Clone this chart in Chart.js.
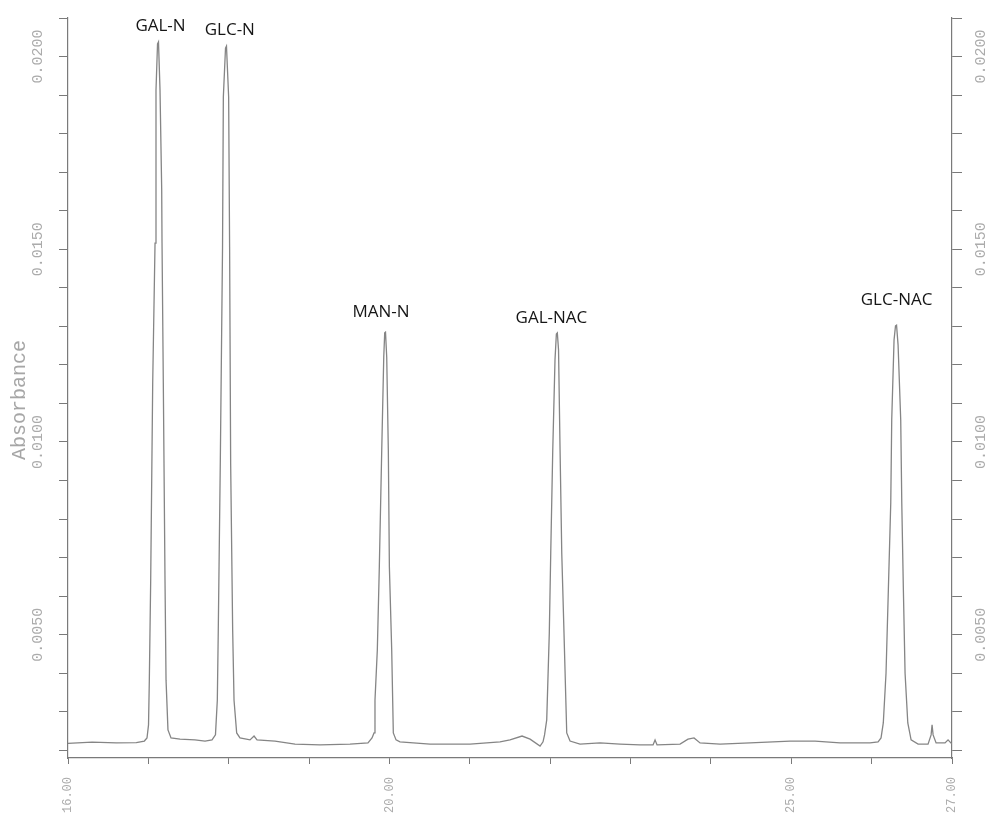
<!DOCTYPE html>
<html>
<head>
<meta charset="utf-8">
<script src="https://cdn.jsdelivr.net/npm/chart.js@4.4.1/dist/chart.umd.min.js"></script>
<style>
  html, body { margin: 0; padding: 0; background: #ffffff; }
  #wrap { width: 987px; height: 815px; position: relative; }
</style>
</head>
<body>
<div id="wrap"><canvas id="chart" width="987" height="815"></canvas></div>
<script>
// ---- Data ----
const retentionTime = [
  16.00, 16.30, 16.60, 16.85, 16.95,
  16.983, 17.002, 17.012, 17.029, 17.054, 17.083, 17.095, 17.114, 17.126, 17.145, 17.166, 17.170, 17.186, 17.207, 17.220, 17.244, 17.282,
  17.394, 17.580, 17.705, 17.792,
  17.835, 17.858, 17.870, 17.895, 17.923, 17.933, 17.960, 17.972, 17.999, 18.011, 18.024, 18.049, 18.066, 18.099, 18.140,
  18.265, 18.315, 18.352, 18.576, 18.825, 19.136, 19.509, 19.733,
  19.783, 19.808, 19.820, 19.849, 19.874, 19.904, 19.929, 19.941, 19.951, 19.966, 19.986, 19.999, 20.028, 20.048, 20.082, 20.131,
  20.505, 21.003, 21.376, 21.500, 21.650, 21.750, 21.874,
  21.911, 21.930, 21.957, 21.989, 22.007, 22.032, 22.060, 22.077, 22.089, 22.104, 22.123, 22.144, 22.172, 22.206, 22.247, 22.371,
  22.620, 22.869, 23.118, 23.280, 23.305, 23.330, 23.616, 23.715, 23.790, 23.865, 24.114, 24.487, 24.985, 25.296, 25.607, 25.980, 26.080,
  26.117, 26.145, 26.179, 26.208, 26.238, 26.250, 26.279, 26.297, 26.310, 26.329, 26.362, 26.375, 26.395, 26.416, 26.450, 26.491,
  26.578, 26.702, 26.740, 26.752, 26.765, 26.802, 26.913, 26.951, 27.000
];
const absorbance = [
  0.00218, 0.00221, 0.00219, 0.00220, 0.00224,
  0.00232, 0.00266, 0.00382, 0.00642, 0.01153, 0.01516, 0.01913, 0.02033, 0.02038, 0.01913, 0.01654, 0.01516, 0.01153, 0.00642, 0.00382, 0.00253, 0.00232,
  0.00229, 0.00227, 0.00224, 0.00227,
  0.00240, 0.00330, 0.00512, 0.00945, 0.01506, 0.01895, 0.02022, 0.02027, 0.01895, 0.01506, 0.00945, 0.00512, 0.00330, 0.00245, 0.00232,
  0.00227, 0.00237, 0.00227, 0.00224, 0.00216, 0.00214, 0.00216, 0.00219,
  0.00232, 0.00245, 0.00330, 0.00460, 0.00676, 0.00979, 0.01220, 0.01283, 0.01285, 0.01220, 0.00979, 0.00676, 0.00460, 0.00245, 0.00227, 0.00222,
  0.00216, 0.00216, 0.00222, 0.00227, 0.00237, 0.00229, 0.00211,
  0.00222, 0.00240, 0.00279, 0.00504, 0.00712, 0.00979, 0.01213, 0.01280, 0.01283, 0.01239, 0.00979, 0.00712, 0.00504, 0.00245, 0.00224, 0.00216,
  0.00219, 0.00216, 0.00214, 0.00214, 0.00227, 0.00214, 0.00216, 0.00229, 0.00232, 0.00219, 0.00216, 0.00219, 0.00224, 0.00224, 0.00219, 0.00219, 0.00222,
  0.00232, 0.00271, 0.00400, 0.00616, 0.00842, 0.01057, 0.01265, 0.01301, 0.01303, 0.01252, 0.01057, 0.00842, 0.00616, 0.00400, 0.00271, 0.00227,
  0.00216, 0.00216, 0.00240, 0.00266, 0.00240, 0.00219, 0.00219, 0.00227, 0.00216
];

// Peak names and their apex (time, absorbance)
const peakNames   = ["GAL-N", "GLC-N", "MAN-N", "GAL-NAC", "GLC-NAC"];
const peakTimes   = [17.12, 17.97, 19.95, 22.09, 26.31];
const peakHeights = [0.02038, 0.02027, 0.01285, 0.01283, 0.01303];

// Axis ticks
const xTicks       = [16, 17, 18, 19, 20, 21, 22, 23, 24, 25, 26, 27];
const xTickLabels  = [16, 20, 25, 27];
const yTicks       = [0.002, 0.003, 0.004, 0.005, 0.006, 0.007, 0.008, 0.009, 0.010, 0.011,
                      0.012, 0.013, 0.014, 0.015, 0.016, 0.017, 0.018, 0.019, 0.020, 0.021];
const yTickLabels  = [0.005, 0.010, 0.015, 0.020];

if (retentionTime.length !== absorbance.length) console.error('length mismatch');

// ---- Styling ----
const AXIS_COLOR = '#7a7a7a';
const TICK_TEXT = '#ababab';
const TRACE_COLOR = '#858585';
const MONO = '"Liberation Mono", "DejaVu Sans Mono", monospace';
const labelOffsets = [[2.5, -11], [3.5, -11], [-4.5, -15], [-6, -10], [0, -20]];

const isIn = (list, v) => list.some(l => Math.abs(l - v) < 1e-9);

const peakLabelPlugin = {
  id: 'peakLabels',
  afterDatasetsDraw(chart) {
    const {ctx, scales} = chart;
    ctx.save();
    ctx.font = '17px "Open Sans", "Noto Sans", sans-serif';
    ctx.fillStyle = '#161616';
    ctx.textAlign = 'center';
    ctx.textBaseline = 'alphabetic';
    peakNames.forEach((name, i) => {
      const px = scales.x.getPixelForValue(peakTimes[i]) + labelOffsets[i][0];
      const py = scales.y.getPixelForValue(peakHeights[i]) + labelOffsets[i][1];
      ctx.fillText(name, px, py);
    });
    ctx.restore();
  }
};

const yAxisCommon = (position, tickLen, pad) => ({
  type: 'linear',
  position,
  min: 0.0018,
  max: 0.021,
  afterBuildTicks: (s) => { s.ticks = yTicks.map(v => ({value: v})); },
  ticks: {
    autoSkip: false,
    minRotation: 90,
    maxRotation: 90,
    crossAlign: 'center',
    padding: pad,
    color: TICK_TEXT,
    font: { family: MONO, size: 15 },
    callback: (v) => isIn(yTickLabels, v) ? Number(v).toFixed(4) : ''
  },
  grid: { drawOnChartArea: false, drawTicks: true, tickLength: tickLen, color: AXIS_COLOR, lineWidth: 1 },
  border: { display: true, color: AXIS_COLOR, width: 1.2 }
});

const yLeft = yAxisCommon('left', 9, -6);
yLeft.title = {
  display: true,
  text: 'Absorbance  ',
  color: '#a6a6a6',
  font: { family: MONO, size: 20 },
  padding: { top: 8, bottom: 0 }
};
yLeft.afterFit = (s) => { s.width = 68; };

const yRight = yAxisCommon('right', 10, -8);
yRight.afterFit = (s) => { s.width = 35; };

new Chart(document.getElementById('chart'), {
  type: 'line',
  data: {
    datasets: [{
      label: 'Absorbance',
      data: retentionTime.map((t, i) => ({x: t, y: absorbance[i]})),
      borderColor: TRACE_COLOR,
      borderWidth: 1.3,
      pointRadius: 0,
      tension: 0,
      fill: false,
      yAxisID: 'y'
    }]
  },
  options: {
    responsive: false,
    animation: false,
    layout: { padding: { top: 18, left: 0, right: 0, bottom: 0 } },
    plugins: { legend: { display: false }, tooltip: { enabled: false } },
    scales: {
      x: {
        type: 'linear',
        position: 'bottom',
        min: 16,
        max: 27,
        afterBuildTicks: (s) => { s.ticks = xTicks.map(v => ({value: v})); },
        ticks: {
          autoSkip: false,
          minRotation: 90,
          maxRotation: 90,
          padding: 13,
          color: TICK_TEXT,
          font: { family: MONO, size: 12 },
          callback: (v) => isIn(xTickLabels, v) ? Number(v).toFixed(2) : ''
        },
        grid: { drawOnChartArea: false, drawTicks: true, tickLength: 6, color: AXIS_COLOR, lineWidth: 1 },
        border: { display: true, color: AXIS_COLOR, width: 1.2 },
        afterFit: (s) => { s.height = 57; }
      },
      y: yLeft,
      y2: yRight
    }
  },
  plugins: [peakLabelPlugin]
});
</script>
</body>
</html>
